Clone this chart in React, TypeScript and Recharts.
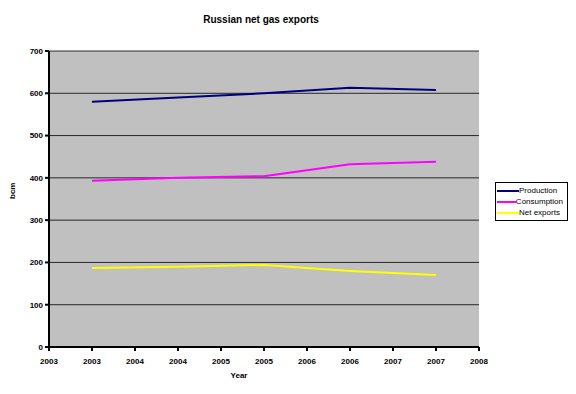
import React from 'react';
import { LineChart, Line, XAxis, YAxis, CartesianGrid } from 'recharts';

const years = [2003, 2004, 2005, 2006, 2007];
const production = [580, 590, 600, 613, 608];
const consumption = [393, 400, 404, 432, 438];
const netExports = [187, 190, 194, 180, 170];
const xTicks = [2002.5, 2003, 2003.5, 2004, 2004.5, 2005, 2005.5, 2006, 2006.5, 2007, 2007.5];
const yTicks = [0, 100, 200, 300, 400, 500, 600, 700];

const series = [
  { key: 'production', name: 'Production', color: '#000080' },
  { key: 'consumption', name: 'Consumption', color: '#ff00ff' },
  { key: 'netExports', name: 'Net exports', color: '#ffff00' },
];

const data = years.map((year, i) => ({
  year,
  production: production[i],
  consumption: consumption[i],
  netExports: netExports[i],
}));

const font = '"Liberation Sans", Arial, sans-serif';
const tickStyle = { fontSize: 8, fontWeight: 700, fill: '#000', fontFamily: font };

// legend drawn by hand so it doesn't eat into the plot area
function LegendBox() {
  return (
    <div
      style={{
        position: 'absolute',
        left: 495,
        top: 182,
        border: '1px solid #000',
        background: '#fff',
        padding: '2px 4px 2px 1px',
        fontSize: 8,
        color: '#000',
        width: 66,
      }}
    >
      {series.map((s) => (
        <div key={s.key} style={{ display: 'flex', alignItems: 'center', height: 11 }}>
          <span style={{ display: 'inline-block', width: 22, height: 2, background: s.color }} />
          <span>{s.name}</span>
        </div>
      ))}
    </div>
  );
}

export default function App() {
  return (
    <div style={{ position: 'absolute', left: 0, top: 0, width: 576, height: 394, background: '#fff', fontFamily: font }}>
      <div style={{ position: 'absolute', top: 14, left: 0, width: 522, textAlign: 'center', fontSize: 10, fontWeight: 700 }}>
        Russian net gas exports
      </div>
      <div style={{ position: 'absolute', top: 371, left: 0, width: 478, textAlign: 'center', fontSize: 8, fontWeight: 700 }}>
        Year
      </div>
      <LineChart width={576} height={394} data={data} margin={{ top: 51, right: 97, bottom: 17, left: 0 }}>
        <CartesianGrid vertical={false} fill="#c0c0c0" stroke="#000" strokeOpacity={0.8} />
        <XAxis
          dataKey="year"
          type="number"
          domain={[2002.5, 2007.5]}
          ticks={xTicks}
          tickFormatter={(v: number) => String(Math.round(v))}
          tick={tickStyle}
          tickSize={4}
          tickMargin={7}
          stroke="#000"
          strokeWidth={2}
          interval={0}
          height={30}
        />
        <YAxis
          width={49}
          domain={[0, 700]}
          ticks={yTicks}
          tick={tickStyle}
          tickSize={4}
          tickMargin={2}
          stroke="#000"
          strokeWidth={2}
          label={{ value: 'bcm', angle: -90, position: 'insideLeft', offset: 12, style: { fontSize: 8, fontWeight: 700, fill: '#000', fontFamily: font } }}
        />
        {series.map((s) => (
          <Line
            key={s.key}
            dataKey={s.key}
            name={s.name}
            stroke={s.color}
            strokeWidth={2}
            dot={false}
            type="linear"
            isAnimationActive={false}
          />
        ))}
      </LineChart>
      <LegendBox />
    </div>
  );
}
